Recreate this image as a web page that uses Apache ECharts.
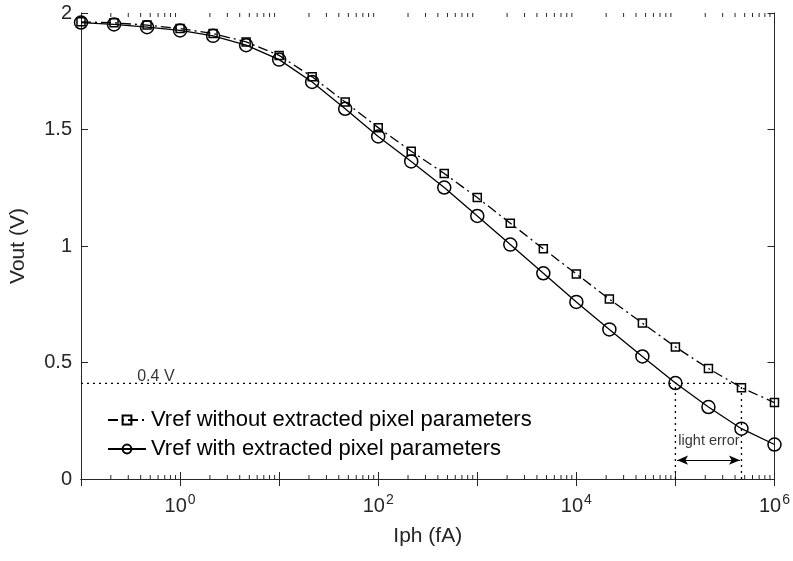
<!DOCTYPE html>
<html>
<head>
<meta charset="utf-8">
<script src="https://cdn.jsdelivr.net/npm/echarts@6/dist/echarts.min.js"></script>
<style>html,body{margin:0;padding:0;background:#fff}#c{width:793px;height:561px}</style>
</head>
<body>
<div id="c"></div>
<script>
// Data
const iph = [0.1, 0.2154, 0.4642, 1, 2.154, 4.642, 10, 21.54, 46.42, 100, 215.4, 464.2, 1000, 2154, 4642, 10000, 21544, 46416, 100000, 215443, 464159, 1000000];
const vrefWithout = [1.962, 1.958, 1.948, 1.933, 1.912, 1.876, 1.818, 1.726, 1.618, 1.508, 1.407, 1.311, 1.208, 1.098, 0.988, 0.880, 0.772, 0.669, 0.567, 0.474, 0.392, 0.328];
const vrefWith = [1.959, 1.951, 1.939, 1.925, 1.902, 1.862, 1.800, 1.704, 1.589, 1.470, 1.363, 1.251, 1.129, 1.006, 0.883, 0.760, 0.642, 0.526, 0.412, 0.309, 0.216, 0.148];
const seriesNames = ['Vref without extracted pixel parameters', 'Vref with extracted pixel parameters'];
const yTicks = [0, 0.5, 1, 1.5, 2];
const xLabelExps = [0, 2, 4, 6];
const thresholdV = 0.41;
const thresholdLabel = '0.4 V';
const errStart = 100000, errEnd = 464159;
const arrowFrom = [104000, 0.081], arrowTo = [448000, 0.081];
const errLabel = 'light error';
const errLabelPos = [218000, 0.161];
const threshLabelPos = [0.57, 0.441];

const minorTicks = [];
for (let e = -1; e <= 5; e++) for (let m = 2; m <= 9; m++) minorTicks.push([m * Math.pow(10, e), 0]);

const AX = '#262626';
const FONT = 'Liberation Sans, Arial, Helvetica, sans-serif';

const chart = echarts.init(document.getElementById('c'));
chart.setOption({
  animation: false,
  backgroundColor: '#fff',
  textStyle: { fontFamily: FONT },
  grid: { left: 81, right: 17, top: 13, bottom: 82 },
  legend: {
    data: seriesNames,
    orient: 'vertical',
    left: 107, top: 409,
    itemWidth: 38, itemHeight: 11, itemGap: 7,
    textStyle: { fontSize: 22, color: '#000', fontFamily: FONT },
    padding: 0
  },
  xAxis: [{
    type: 'log', logBase: 10, min: 0.1, max: 1000000, interval: 1,
    name: 'Iph (fA)', nameLocation: 'middle', nameGap: 47,
    nameTextStyle: { fontSize: 21, color: '#262626', fontFamily: FONT },
    axisLine: { show: true, lineStyle: { color: AX, width: 1 } },
    axisTick: { show: true, inside: true, length: 7, lineStyle: { color: AX } },
    minorTick: { show: false },
    splitLine: { show: false },
    axisLabel: {
      margin: 14, color: '#262626',
      formatter: function (v) {
        const e = Math.round(Math.log10(v));
        if (xLabelExps.indexOf(e) < 0) return '';
        return '{b|10}{s|' + e + '}';
      },
      rich: {
        b: { fontSize: 20, fontFamily: FONT, color: '#262626' },
        s: { fontSize: 14, fontFamily: FONT, color: '#262626', padding: [0, 0, 13, 1] }
      }
    }
  }, {
    type: 'log', logBase: 10, min: 0.1, max: 1000000, interval: 1, position: 'top',
    axisLine: { show: true, lineStyle: { color: AX, width: 1 } },
    axisTick: { show: true, inside: true, length: 7, lineStyle: { color: AX } },
    axisLabel: { show: false }, splitLine: { show: false }
  }],
  yAxis: [{
    type: 'value', min: 0, max: 2, interval: 0.5,
    name: 'Vout (V)', nameLocation: 'middle', nameGap: 52,
    nameTextStyle: { fontSize: 21, color: '#262626', fontFamily: FONT },
    axisLine: { show: true, lineStyle: { color: AX, width: 1 } },
    axisTick: { show: true, inside: true, length: 7, lineStyle: { color: AX } },
    splitLine: { show: false },
    axisLabel: { fontSize: 20, color: '#262626', margin: 9,
      formatter: function (v) { return yTicks.indexOf(v) >= 0 ? String(v) : ''; } }
  }, {
    type: 'value', min: 0, max: 2, interval: 0.5, position: 'right',
    axisLine: { show: true, lineStyle: { color: AX, width: 1 } },
    axisTick: { show: true, inside: true, length: 7, lineStyle: { color: AX } },
    splitLine: { show: false }, axisLabel: { show: false }
  }],
  series: [
    {
      name: seriesNames[0], type: 'line',
      data: iph.map((x, i) => [x, vrefWithout[i]]),
      symbol: 'rect', symbolSize: 8,
      lineStyle: { color: '#000', width: 1.3, type: [10, 4, 2, 4] },
      itemStyle: { color: 'rgba(255,255,255,0)', borderColor: '#000', borderWidth: 1.5 },
      z: 5
    },
    {
      name: seriesNames[1], type: 'line',
      data: iph.map((x, i) => [x, vrefWith[i]]),
      symbol: 'circle', symbolSize: 13,
      lineStyle: { color: '#000', width: 1.3 },
      itemStyle: { color: 'rgba(255,255,255,0)', borderColor: '#000', borderWidth: 1.5 },
      z: 5
    },
    {
      name: 'hline', type: 'line', silent: true, symbol: 'none',
      data: [[0.1, thresholdV], [errEnd, thresholdV]],
      lineStyle: { color: '#000', width: 1.3, type: [2, 4] }, z: 3
    },
    {
      name: 'v1', type: 'line', silent: true, symbol: 'none',
      data: [[errStart, 0], [errStart, thresholdV]],
      lineStyle: { color: '#000', width: 1.3, type: [2, 4] }, z: 3
    },
    {
      name: 'v2', type: 'line', silent: true, symbol: 'none',
      data: [[errEnd, 0], [errEnd, thresholdV]],
      lineStyle: { color: '#000', width: 1.3, type: [2, 4] }, z: 3
    },
    {
      name: 'arrow', type: 'line', silent: true, symbol: 'none', data: [],
      markLine: {
        silent: true, symbol: ['arrow', 'arrow'], symbolSize: [7, 11],
        label: { show: false },
        lineStyle: { color: '#000', width: 1.2, type: 'solid' },
        data: [[{ coord: arrowFrom }, { coord: arrowTo }]]
      }
    },
    {
      name: 'labels', type: 'scatter', silent: true, symbolSize: 0,
      data: [
        { value: threshLabelPos, label: { formatter: thresholdLabel, fontSize: 16 } },
        { value: errLabelPos, label: { formatter: errLabel, fontSize: 14.5 } }
      ],
      label: { show: true, position: 'inside', color: '#000', fontFamily: FONT }
    },
    {
      name: 'minor', type: 'custom', silent: true, clip: false,
      data: minorTicks, encode: { x: 0, y: 1 },
      renderItem: function (params, api) {
        const v = api.value(0);
        const pb = api.coord([v, 0]);
        const pt = api.coord([v, 2]);
        const st = { stroke: AX, lineWidth: 1 };
        return {
          type: 'group', children: [
            { type: 'line', shape: { x1: pb[0], y1: pb[1], x2: pb[0], y2: pb[1] - 4 }, style: st },
            { type: 'line', shape: { x1: pt[0], y1: pt[1], x2: pt[0], y2: pt[1] + 4 }, style: st }
          ]
        };
      }
    }
  ]
});
</script>
</body>
</html>
